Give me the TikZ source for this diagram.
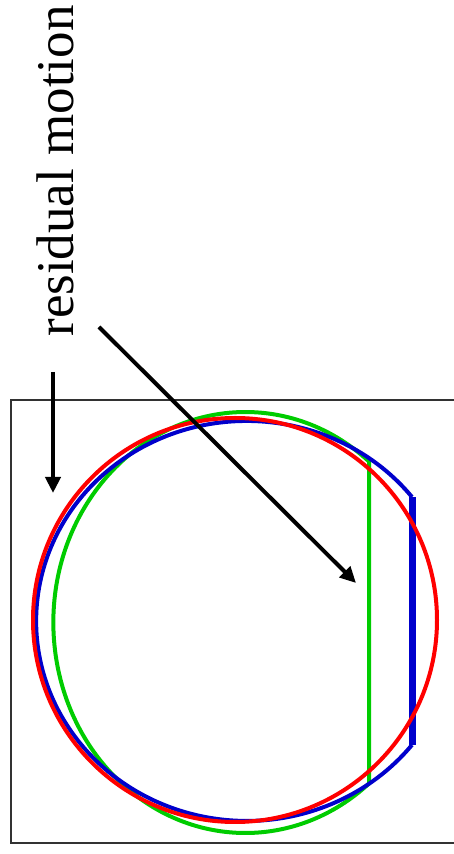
\documentclass[tikz,border=0pt]{standalone}
\usepackage{fontspec}
\setmainfont{Liberation Serif}
\usetikzlibrary{arrows.meta}
\definecolor{darkframe}{RGB}{50,50,50}
\definecolor{curvegreen}{RGB}{0,204,0}
\definecolor{curveblue}{RGB}{0,0,204}
\definecolor{curvered}{RGB}{255,0,0}
\begin{document}
\begin{tikzpicture}[x=1pt, y=1pt,
    frame/.style={draw=darkframe, line width=2.2pt},
    contour/.style={line width=4pt},
    pointer/.style={-{Triangle[length=16pt, width=15pt]}, line width=4pt},
    caption/.style={font=\fontsize{53}{62}\selectfont, rotate=90, inner sep=0pt}]
    \useasboundingbox (0,0) rectangle (454,854);

    \draw[frame] (11,11) rectangle (470,454);

    % green outline, cut by a chord
    \draw[contour, curvegreen] (369,392.5) arc[start angle=49.9, end angle=310.1, x radius=192, y radius=210.5] -- cycle;
    \draw[line width=3.5pt, curvegreen] (369,392.5) -- (369,70.5);
    % blue outline, cut by a thick chord
    \draw[contour, curveblue] (412,357) arc[start angle=38.3, end angle=321.7, x radius=210.6, y radius=200];
    \draw[line width=7pt, curveblue] (412,357) -- (412,109);
    % red circle
    \draw[contour, curvered] (235,234) circle[radius=202];

    \node[caption] (label) at (55,683) {residual motion};

    \coordinate (leftfrom) at (53,482);
    \coordinate (leftto) at (53,361);
    \coordinate (diagfrom) at (99,527);
    \coordinate (diagto) at (356,271);
    \draw[pointer] (leftfrom) -- (leftto);
    \draw[pointer] (diagfrom) -- (diagto);
\end{tikzpicture}
\end{document}
